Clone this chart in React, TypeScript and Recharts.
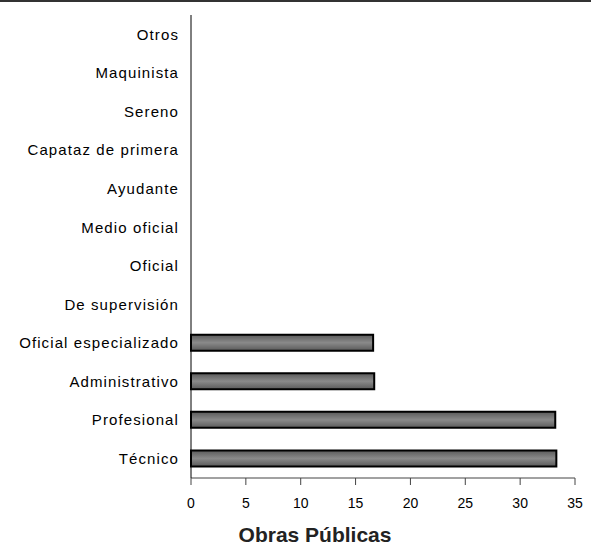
import { BarChart, Bar, XAxis, YAxis, Label } from 'recharts';

const categories = [
  'Otros',
  'Maquinista',
  'Sereno',
  'Capataz de primera',
  'Ayudante',
  'Medio oficial',
  'Oficial',
  'De supervisión',
  'Oficial especializado',
  'Administrativo',
  'Profesional',
  'Técnico',
];

const values = [0, 0, 0, 0, 0, 0, 0, 0, 16.6, 16.7, 33.2, 33.3];

const xTicks = [0, 5, 10, 15, 20, 25, 30, 35];

const chartData = categories.map((name, i) => ({ name, value: values[i] }));

const FONT = '"Liberation Sans", Arial, sans-serif';

export default function App() {
  return (
    <div
      style={{
        position: 'absolute',
        top: 0,
        left: 0,
        width: 591,
        height: 547,
        background: '#fff',
        fontFamily: FONT,
      }}
    >
      <div style={{ position: 'absolute', top: 0, left: 0, width: 591, height: 2, background: '#333' }} />
      <BarChart
        width={591}
        height={547}
        data={chartData}
        layout="vertical"
        margin={{ top: 15, right: 16, bottom: 0, left: 0 }}
        barCategoryGap={0}
      >
        <defs>
          <linearGradient id="barFill" x1="0" y1="0" x2="0" y2="1">
            <stop offset="0%" stopColor="#5a5a5a" />
            <stop offset="50%" stopColor="#8a8a8a" />
            <stop offset="100%" stopColor="#5a5a5a" />
          </linearGradient>
        </defs>
        <XAxis
          type="number"
          domain={[0, 35]}
          ticks={xTicks}
          interval={0}
          tickSize={7}
          tickMargin={13}
          axisLine={{ stroke: '#444' }}
          tickLine={{ stroke: '#444' }}
          tick={{ fontSize: 14, fill: '#000', fontFamily: FONT }}
          height={69}
        >
          <Label
            value="Obras Públicas"
            position="insideBottom"
            dx={-68}
            offset={5}
            style={{ fontSize: 21, fontWeight: 'bold', fill: '#222', fontFamily: FONT }}
          />
        </XAxis>
        <YAxis
          type="category"
          dataKey="name"
          width={191}
          tickLine={false}
          tickSize={0}
          tickMargin={12}
          axisLine={{ stroke: '#000' }}
          tick={{ fontSize: 15, fill: '#000', fontFamily: FONT, letterSpacing: 1.1 }}
          interval={0}
        />
        <Bar
          dataKey="value"
          barSize={16}
          fill="url(#barFill)"
          stroke="#000"
          strokeWidth={2}
          isAnimationActive={false}
        />
      </BarChart>
    </div>
  );
}
